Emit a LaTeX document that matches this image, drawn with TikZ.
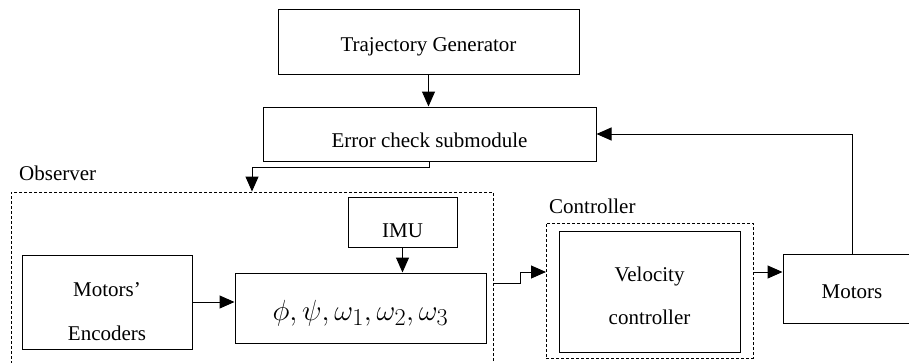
\documentclass[tikz,border=0pt]{standalone}
\usepackage{fontspec}
\setmainfont{Liberation Serif}
\usepackage{graphicx}
\usetikzlibrary{arrows.meta,calc}
\begin{document}
\begin{tikzpicture}[x=1pt,y=-1pt,
  every node/.style={font=\fontsize{21}{25}\selectfont},
  blk/.style={draw, line width=1pt, inner sep=0pt, align=center},
  grp/.style={draw, line width=0.9pt, dash pattern=on 3pt off 2pt, inner sep=0pt},
  txt/.style={inner sep=0pt, align=center, font=\fontsize{21}{25}\selectfont},
  lbl/.style={inner sep=0pt, anchor=west},
  arr/.style={line width=1pt, -{Triangle[length=15pt,width=13pt]}},
  ln/.style={line width=1pt}]
\useasboundingbox (0,0) rectangle (909,362);
\clip (0,0) rectangle (909,362);
% boxes
\node[blk, minimum width=301pt, minimum height=65pt,
  label={[txt,yshift=-5pt]center:Trajectory Generator}] (traj) at (428.5,41.5) {};
\node[blk, minimum width=333pt, minimum height=54pt,
  label={[txt,yshift=-6pt]center:Error check submodule}] (err) at (429.5,134) {};
\node[grp, minimum width=482pt, minimum height=182pt] (obs) at (252,283) {};
\node[lbl] (obslbl) at (19,173) {Observer};
\node[blk, minimum width=109pt, minimum height=50pt,
  label={[txt,yshift=-9pt]center:IMU}] (imu) at (402.5,222) {};
\node[blk, minimum width=251pt, minimum height=70pt,
  label={[txt,yshift=-5pt]center:\scalebox{1.17}{\fontsize{24.88}{30}\selectfont$\phi,\psi,\omega_1,\omega_2,\omega_3$}}] (phi) at (360.5,308) {};
\node[blk, minimum width=170pt, minimum height=94pt,
  label={[txt,yshift=-10pt]center:{Motors'\\[19pt]Encoders}}] (enc) at (107,302) {};
\node[grp, minimum width=207pt, minimum height=135pt] (ctrl) at (649.5,290.5) {};
\node[lbl] (ctrllbl) at (549,206) {Controller};
\node[blk, minimum width=181pt, minimum height=121pt,
  label={[txt,yshift=-4pt]center:{Velocity\\[18pt]controller}}] (vel) at (649.5,291.5) {};
\node[blk, minimum width=138pt, minimum height=69pt,
  label={[txt,yshift=-3pt]center:Motors}] (mot) at (852,288.5) {};
% connectors
\coordinate (cin) at (546,272);
\coordinate (bend) at (520,283);
\draw[arr] (traj.south) -- (traj.south |- err.north);
\draw[arr] (err.south) -- ++(0,6) -| (obs.north);
\draw[arr] (imu.south) -- (imu.south |- phi.north);
\draw[arr] (enc.east) -- (phi.west |- enc.east);
\draw[arr] (obs.east) -- (bend) |- (cin);
\draw[arr] (ctrl.east |- cin) -- (mot.west |- cin);
\draw[arr] (mot.north) |- (err.east);
\end{tikzpicture}
\end{document}
